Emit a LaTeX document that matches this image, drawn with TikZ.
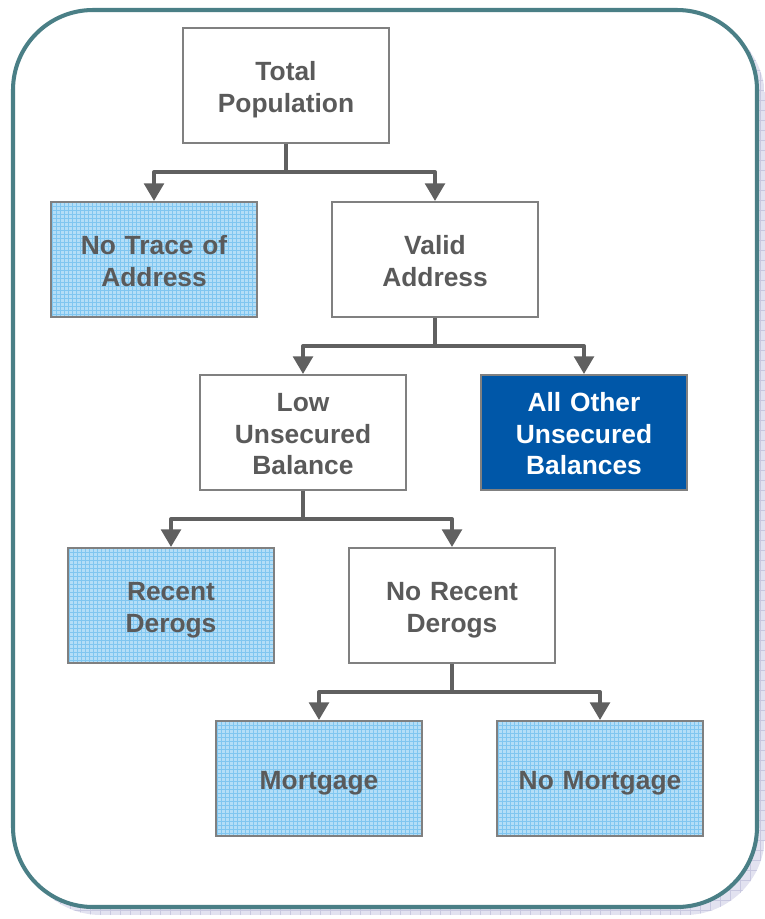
\documentclass[tikz,border=0pt]{standalone}
\usepackage{fontspec}
\setmainfont{Liberation Sans}
\usepackage{tikz}
\usetikzlibrary{arrows.meta,positioning,calc}

\definecolor{txtgray}{RGB}{90,90,90}
\definecolor{boxline}{RGB}{128,128,128}
\definecolor{linkgray}{RGB}{96,96,96}
\definecolor{cellblue}{RGB}{180,222,247}
\definecolor{cellline}{RGB}{128,198,240}
\definecolor{deepblue}{RGB}{0,87,168}
\definecolor{frameteal}{RGB}{74,127,134}
\definecolor{shadelav}{RGB}{226,226,240}
\definecolor{shadeline}{RGB}{200,200,224}

\tikzset{
  box/.style={draw=boxline, line width=1.1pt, fill=white, minimum width=4.12cm, minimum height=2.3cm,
    align=center, text width=3.9cm, font=\bfseries\fontsize{15}{18}\selectfont, text=txtgray,
    execute at begin node={\rule{0pt}{15.5pt}}, execute at end node={\rule[-3.2pt]{0pt}{3.2pt}}},
  leaf/.style={box, path picture={
      \fill[cellblue] (path picture bounding box.south west) rectangle (path picture bounding box.north east);
      \draw[cellline, line width=0.5pt, step=0.08] (path picture bounding box.south west) grid (path picture bounding box.north east);}},
  hot/.style={box, fill=deepblue, text=white},
  link/.style={draw=linkgray, line width=2.3pt, line join=round, -{Triangle[width=11pt,length=10pt]}}
}

\begin{document}
\begin{tikzpicture}
    \useasboundingbox (0,0) rectangle (15.30,-18.38);

    % shadow and frame
    \begin{scope}
        \clip[rounded corners=1.6cm] (0.42,-0.36) rectangle (15.30,-18.30);
        \fill[shadelav] (0.42,-0.36) rectangle (15.30,-18.30);
        \draw[shadeline, line width=0.5pt, step=0.2] (0.42,-18.30) grid (15.30,-0.36);
    \end{scope}
    \draw[frameteal, line width=2.3pt, fill=white, rounded corners=1.6cm] (0.26,-0.20) rectangle (15.14,-18.14);

    \node[box] (tot) at (5.72,-1.71) {Total\\Population};
    \node[leaf] (ntr) at (3.08,-5.19) {No Trace of\\Address};
    \node[box] (val) at (8.70,-5.19) {Valid\\Address};
    \node[box] (low) at (6.06,-8.65) {Low\\Unsecured\\Balance};
    \node[hot] (oth) at (11.68,-8.65) {All Other\\Unsecured\\Balances};
    \node[leaf] (rec) at (3.42,-12.11) {Recent\\Derogs};
    \node[box] (nrd) at (9.04,-12.11) {No Recent\\Derogs};
    \node[leaf] (mor) at (6.38,-15.57) {Mortgage};
    \node[leaf] (nmo) at (12.00,-15.57) {No Mortgage};

    \draw[link] (tot.south) -- ++(0,-0.56) -| (ntr.north);
    \draw[link] (tot.south) -- ++(0,-0.56) -| (val.north);
    \draw[link] (val.south) -- ++(0,-0.56) -| (low.north);
    \draw[link] (val.south) -- ++(0,-0.56) -| (oth.north);
    \draw[link] (low.south) -- ++(0,-0.56) -| (rec.north);
    \draw[link] (low.south) -- ++(0,-0.56) -| (nrd.north);
    \draw[link] (nrd.south) -- ++(0,-0.56) -| (mor.north);
    \draw[link] (nrd.south) -- ++(0,-0.56) -| (nmo.north);
\end{tikzpicture}
\end{document}
